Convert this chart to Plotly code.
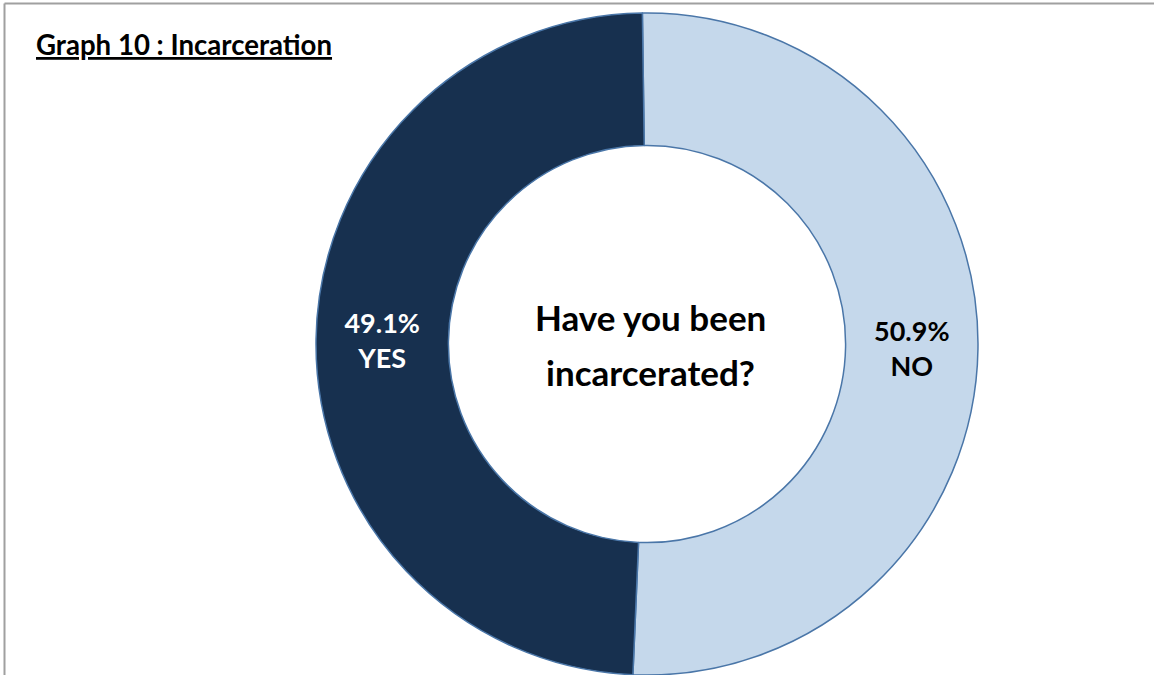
import plotly.graph_objects as go

# Survey answers (percent of respondents), drawn clockwise from 12 o'clock
answers = ["NO", "YES"]
shares = [50.9, 49.1]
slice_colors = ["#C5D8EB", "#17304F"]
label_colors = ["#000000", "#FFFFFF"]

title_text = "Graph 10 : Incarceration"
question_lines = ["Have you been", "incarcerated?"]

W, H = 1154, 675
FONT = "Lato, Carlito, Calibri, sans-serif"


def px_x(v):
    return v / W


def px_y(v):
    return 1 - v / H


fig = go.Figure(
    go.Pie(
        labels=answers,
        values=shares,
        hole=0.6,
        sort=False,
        direction="clockwise",
        rotation=-0.8,
        marker=dict(colors=slice_colors, line=dict(color="#4A76A8", width=1.5)),
        texttemplate="%{percent:.1%}<br>%{label}",
        textposition="inside",
        insidetextorientation="horizontal",
        textfont=dict(family=FONT, size=27, color=label_colors, weight="bold"),
        hoverinfo="label+percent",
        domain=dict(x=[px_x(647 - 331), px_x(647 + 331)], y=[0, px_y(13)]),
        showlegend=False,
    )
)

annotations = [
    dict(
        text="<u>" + title_text + "</u>",
        x=px_x(34), y=px_y(44), xref="paper", yref="paper",
        xanchor="left", yanchor="middle", showarrow=False,
        font=dict(family=FONT, size=27.6, color="#000000", weight="bold"),
    )
]
for line, ypix in zip(question_lines, [317, 372]):
    annotations.append(
        dict(
            text=line,
            x=px_x(650), y=px_y(ypix), xref="paper", yref="paper",
            xanchor="center", yanchor="middle", showarrow=False,
            font=dict(family=FONT, size=35, color="#000000", weight="bold"),
        )
    )

# Frame edges visible along the top and left
shapes = [
    dict(type="line", xref="paper", yref="paper",
         x0=px_x(4.5), x1=1.0, y0=px_y(3.5), y1=px_y(3.5),
         line=dict(color="#A0A0A0", width=2)),
    dict(type="line", xref="paper", yref="paper",
         x0=px_x(4.5), x1=px_x(4.5), y0=px_y(3.5), y1=0,
         line=dict(color="#A0A0A0", width=2)),
]

fig.update_layout(
    width=W,
    height=H,
    margin=dict(l=0, r=0, t=0, b=0),
    paper_bgcolor="#FFFFFF",
    plot_bgcolor="#FFFFFF",
    annotations=annotations,
    shapes=shapes,
    uniformtext=dict(minsize=27, mode="show"),
)

fig.write_html("out.html", config={"displayModeBar": False})
